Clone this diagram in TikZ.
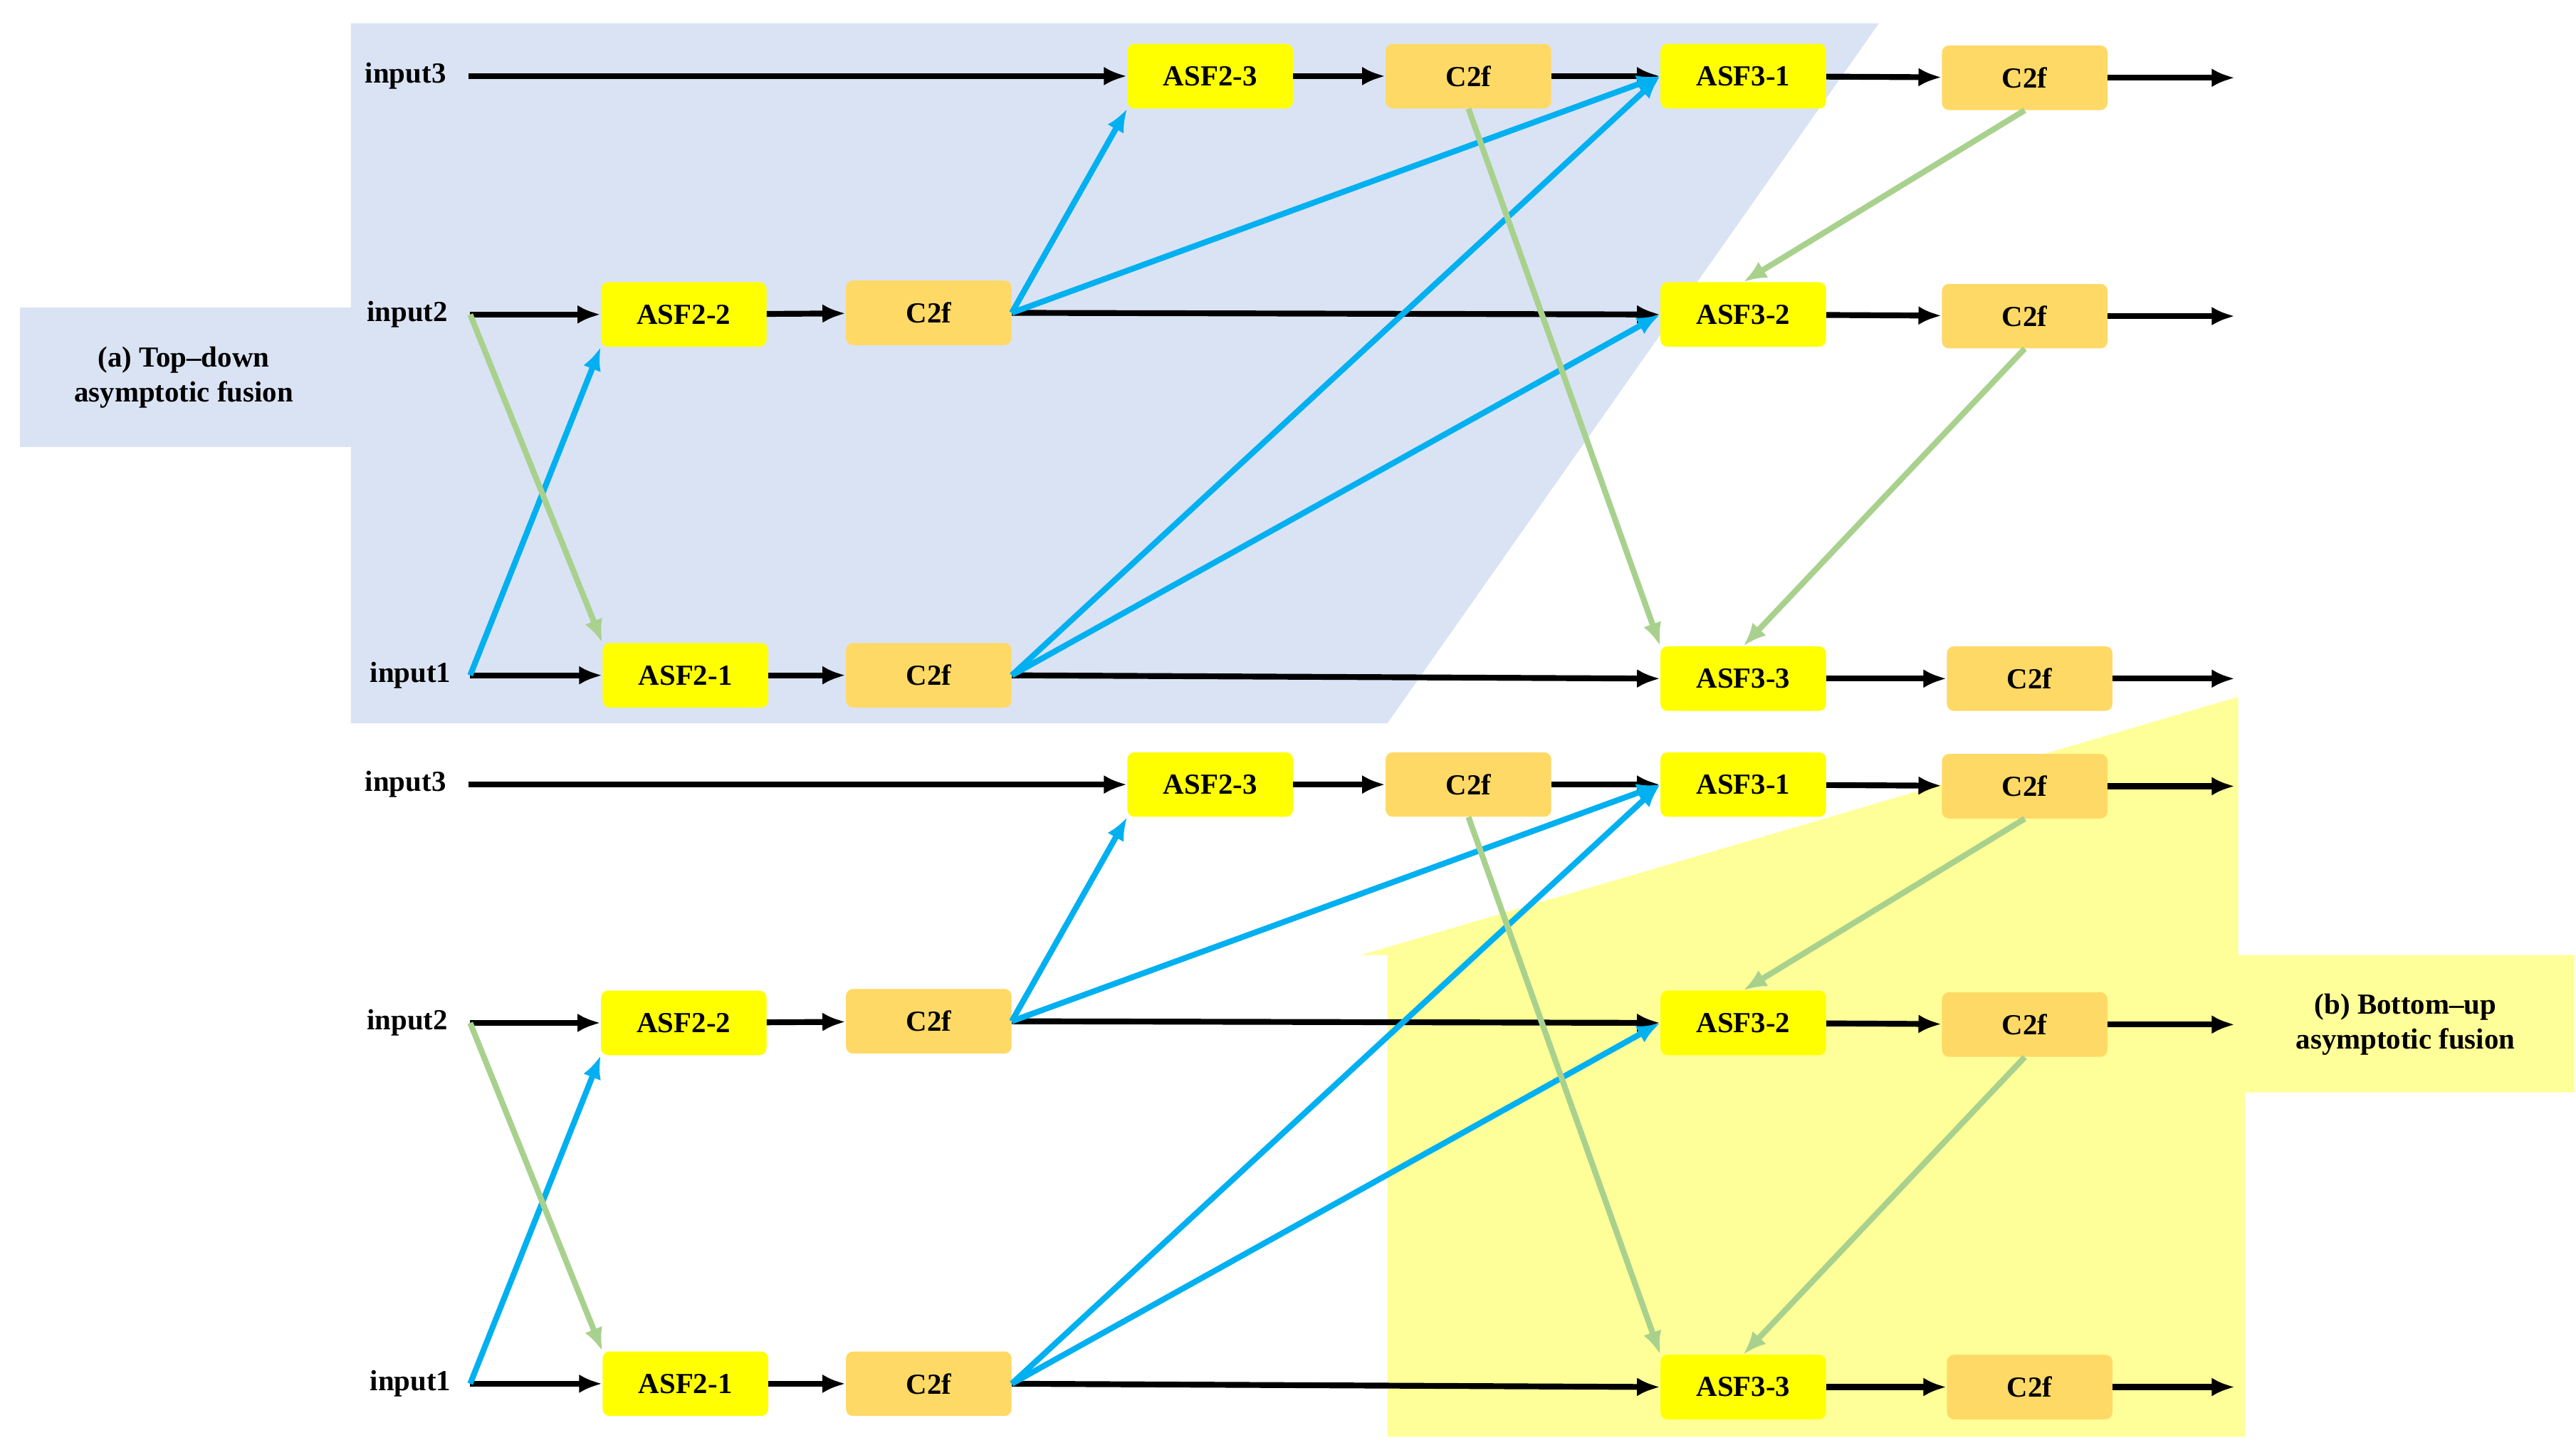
\documentclass[tikz,border=0pt]{standalone}
\usepackage{fontspec}
\setmainfont{Liberation Serif}
\usetikzlibrary{arrows.meta}
\definecolor{bgblue}{HTML}{DAE3F3}
\definecolor{bgyel}{HTML}{FFFF99}
\definecolor{nyel}{HTML}{FFFF00}
\definecolor{nor}{HTML}{FFD966}
\definecolor{ablue}{HTML}{00B0F0}
\definecolor{agreen}{HTML}{A9D18E}
\begin{document}
\begin{tikzpicture}[x=0.05cm,y=-0.05cm,
  box/.style={rounded corners=6pt,minimum width=5cm,minimum height=1.95cm,inner sep=0pt,font=\fontsize{25}{30}\selectfont\bfseries},
  asf/.style={box,fill=nyel},
  cf/.style={box,fill=nor},
  lab/.style={font=\fontsize{25}{30}\selectfont\bfseries,inner sep=0pt},
  ar/.style={line width=5pt,-{Latex[length=20pt,width=16pt]}},
  bk/.style={ar,black},
  bl/.style={ar,ablue},
  gr/.style={ar,agreen}]
\useasboundingbox (0,0) rectangle (1556,879);
\fill[bgblue] (212,14) -- (1135,14) -- (838,437) -- (212,437) -- cycle;
\fill[bgblue] (12,186) rectangle (212,270);
\node[lab,align=center] (la) at (111,228) {(a) Top–down\\asymptotic fusion};
\fill[bgyel] (822,577) -- (1352,421) -- (1352,577) -- (1555,577) -- (1555,660) -- (1356,660) -- (1356,868) -- (838,868) -- (838,577) -- cycle;
\node[lab,align=center] (lb) at (1453,619) {(b) Bottom–up\\asymptotic fusion};
\foreach \p/\dy in {a/0,b/428}{
\begin{scope}[shift={(0,\dy)}]
\node[lab] (\p i3) at (245,46) {input3};
\node[lab] (\p i2) at (246,190) {input2};
\node[lab] (\p i1) at (248,408) {input1};
\coordinate (\p s3) at (283,46);
\coordinate (\p s2) at (284,190);
\coordinate (\p s1) at (284,408);
\node[asf] (\p A23) at (731,46) {ASF2-3};
\node[cf] (\p C3) at (887,46) {C2f};
\node[asf] (\p A31) at (1053,46) {ASF3-1};
\node[cf] (\p D3) at (1223,47) {C2f};
\node[asf] (\p A22) at (413,190) {ASF2-2};
\node[cf] (\p C2) at (561,189) {C2f};
\node[asf] (\p A32) at (1053,190) {ASF3-2};
\node[cf] (\p D2) at (1223,191) {C2f};
\node[asf] (\p A21) at (414,408) {ASF2-1};
\node[cf] (\p C1) at (561,408) {C2f};
\node[asf] (\p A33) at (1053,410) {ASF3-3};
\node[cf] (\p D1) at (1226,410) {C2f};
\coordinate (\p o3) at (1350,47);
\coordinate (\p o2) at (1350,191);
\coordinate (\p o1) at (1350,410);
\draw[bk] (\p s3) -- (\p A23.west);
\draw[bk] (\p A23) -- (\p C3);
\draw[bk] (\p C3) -- (\p A31);
\draw[bk] (\p A31) -- (\p D3);
\draw[bk] (\p D3) -- (\p o3);
\draw[bk] (\p s2) -- (\p A22.west);
\draw[bk] (\p A22) -- (\p C2);
\draw[bk] (\p C2.east) -- (\p A32.west);
\draw[bk] (\p A32) -- (\p D2);
\draw[bk] (\p D2) -- (\p o2);
\draw[bk] (\p s1) -- (\p A21.west);
\draw[bk] (\p A21) -- (\p C1);
\draw[bk] (\p C1.east) -- (\p A33.west);
\draw[bk] (\p A33) -- (\p D1);
\draw[bk] (\p D1) -- (\p o1);
\draw[bl] (\p s1) -- (\p A22.south west);
\draw[bl] (\p C2.east) -- (\p A23.south west);
\draw[bl] (\p C2.east) -- (\p A31.west);
\draw[bl] (\p C1.east) -- (\p A31.west);
\draw[bl] (\p C1.east) -- (\p A32.west);
\draw[gr] (\p s2) -- (\p A21.north west);
\draw[gr] (\p C3.south) -- (\p A33.north west);
\draw[gr] (\p D3.south) -- (\p A32.north);
\draw[gr] (\p D2.south) -- (\p A33.north);
\end{scope}}
\end{tikzpicture}
\end{document}
